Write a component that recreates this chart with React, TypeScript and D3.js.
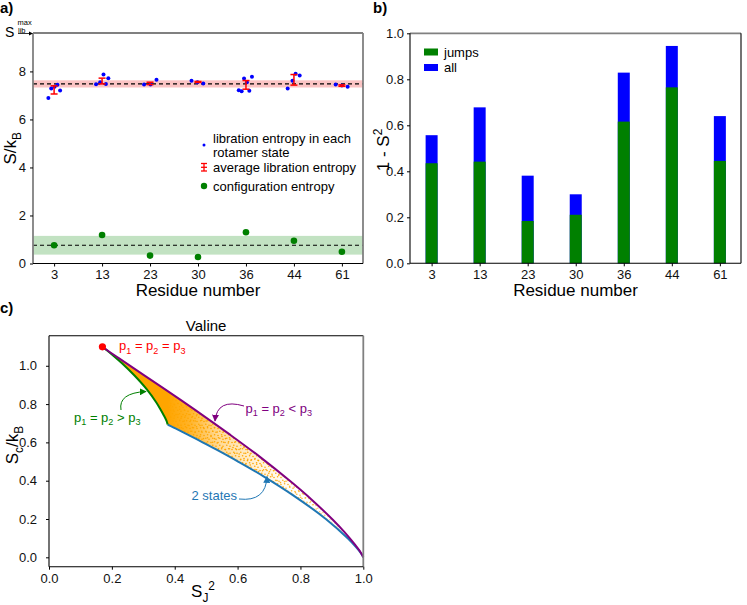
import * as d3 from 'd3';
import { useRef, useEffect } from 'react';

// ---- panel a: entropies per residue ----
const residues = ['3', '13', '23', '30', '36', '44', '61'];

// libration entropy of each rotamer state (S/kB) and its horizontal jitter (category units)
const libStateEntropy = [
    [6.89, 7.29, 7.36, 7.44, 7.21],
    [7.47, 7.55, 7.87, 7.48, 7.72],
    [7.45, 7.45, 7.65],
    [7.61, 7.55, 7.5],
    [7.22, 7.17, 7.7, 7.55, 7.19, 7.78],
    [7.29, 7.61, 7.9, 7.83],
    [7.46, 7.41, 7.36],
];
const libStateJitter = [
    [-0.12, -0.06, 0.01, 0.07, 0.125],
    [-0.125, -0.04, 0.03, 0.08, 0.13],
    [-0.125, 0.01, 0.135],
    [-0.135, -0.01, 0.11],
    [-0.15, -0.09, -0.04, 0.02, 0.07, 0.125],
    [-0.13, -0.03, 0.035, 0.12],
    [-0.13, 0, 0.12],
];
const libMean = [7.23, 7.6, 7.5, 7.56, 7.44, 7.65, 7.41];
const libErr = [0.17, 0.12, 0.05, 0.02, 0.18, 0.22, 0.03];
const libOverall = 7.48;
const libOverallSd = 0.15;
const libMax = 9.6;

const confEntropy = [0.76, 1.19, 0.33, 0.27, 1.3, 0.95, 0.49];
const confOverall = 0.76;
const confOverallSd = 0.39;

const ticksA = [0, 2, 4, 6, 8];

// ---- panel b: 1 - S^2 ----
const jumpsS2 = [0.435, 0.442, 0.184, 0.211, 0.616, 0.765, 0.445];
const allS2 = [0.557, 0.678, 0.381, 0.3, 0.829, 0.945, 0.64];
const ticksB = [0, 0.2, 0.4, 0.6, 0.8, 1.0];

// ---- panel c: valine, [S_J^2, Sc/kB] ----
const equalAll: [number, number] = [0.17, 1.099];
const pairBelowThird: [number, number][] = [
    [0.17, 1.099], [0.178, 1.089], [0.222, 1.04], [0.303, 0.95], [0.421, 0.819],
    [0.494, 0.736], [0.577, 0.639], [0.669, 0.527], [0.77, 0.394], [0.835, 0.302],
    [0.903, 0.196], [0.941, 0.13], [0.975, 0.063], [0.988, 0.035], [0.995, 0.016], [1.0, 0.0],
];
const pairAboveThird: [number, number][] = [
    [0.17, 1.099], [0.172, 1.096], [0.183, 1.082], [0.203, 1.055], [0.233, 1.012],
    [0.272, 0.949], [0.31, 0.879], [0.342, 0.807], [0.353, 0.777], [0.365, 0.742],
    [0.374, 0.712], [0.3775, 0.693],
];
const twoStates: [number, number][] = [
    [0.3775, 0.693], [0.3837, 0.688], [0.4024, 0.673], [0.4335, 0.647], [0.4771, 0.611],
    [0.5331, 0.562], [0.6016, 0.5], [0.6825, 0.423], [0.7759, 0.325], [0.8817, 0.199],
    [0.9512, 0.098], [0.9754, 0.056], [0.9876, 0.032], [0.9975, 0.008], [1.0, 0.0],
];
const ticksC = [0, 0.2, 0.4, 0.6, 0.8, 1.0];

const FONT = '"Liberation Sans", Arial, sans-serif';
const GRAY = '#808080';

type Sel = d3.Selection<any, unknown, null, undefined>;

// text with sub (1) / superscript (-1) parts
function richText(parent: Sel, x: number, y: number, parts: [string, number][], size: number, fill = '#000', anchor = 'start') {
    const t = parent.append('text')
        .attr('x', x).attr('y', y)
        .attr('font-size', size)
        .attr('fill', fill)
        .attr('text-anchor', anchor);
    let shift = 0;
    parts.forEach(([s, level]) => {
        const target = level === 1 ? size * 0.3 : level === -1 ? -size * 0.4 : 0;
        t.append('tspan')
            .attr('dy', target - shift)
            .attr('font-size', level ? size * 0.7 : size)
            .text(s);
        shift = target;
    });
    return t;
}

function styleAxis(g: Sel) {
    g.select('.domain').remove();
    g.attr('font-family', FONT).attr('font-size', 13);
    g.selectAll('text').attr('fill', '#111');
    g.selectAll('line').attr('stroke', '#000');
}

function frame(g: Sel, x0: number, x1: number, y0: number, y1: number, colors: { top: string; right: string; left: string }) {
    const side = (xa: number, ya: number, xb: number, yb: number, c: string) =>
        g.append('line').attr('x1', xa).attr('y1', ya).attr('x2', xb).attr('y2', yb)
            .attr('stroke', c).attr('stroke-width', c === GRAY ? 1.8 : 1.1);
    side(x0, y0, x1, y0, colors.top);
    side(x1, y0, x1, y1, colors.right);
    side(x0, y0, x0, y1, colors.left);
    side(x0, y1, x1, y1, '#000');
}

function drawPanelA(svg: Sel) {
    const g = svg.append('g');
    const x = d3.scaleLinear().domain([-0.44, 6.44]).range([33, 363]);
    const y = d3.scaleLinear().domain([0, libMax]).range([263.5, 33]);
    const [xl, xr] = x.range();

    // bands and overall means
    const band = (m: number, sd: number, fill: string) => {
        g.append('rect')
            .attr('x', xl).attr('width', xr - xl)
            .attr('y', y(m + sd)).attr('height', y(m - sd) - y(m + sd))
            .attr('fill', fill);
        g.append('line')
            .attr('x1', xl).attr('x2', xr).attr('y1', y(m)).attr('y2', y(m))
            .attr('stroke', '#000').attr('stroke-width', 1.2).attr('stroke-dasharray', '4,3');
    };
    band(libOverall, libOverallSd, '#fbc4c4');
    band(confOverall, confOverallSd, '#c2e2c2');

    // libration entropy of each state
    const pts = libStateEntropy.flatMap((vals, i) =>
        vals.map((v, j) => ({ i: i + libStateJitter[i][j], v })));
    g.append('g').selectAll('circle')
        .data(pts)
        .enter()
        .append('circle')
        .attr('cx', d => x(d.i))
        .attr('cy', d => y(d.v))
        .attr('r', 2)
        .attr('fill', '#0000ff');

    // average with error bars
    const eb = g.append('g').attr('stroke', '#ff0000').attr('stroke-width', 1.5);
    libMean.forEach((m, i) => {
        const cx = x(i);
        eb.append('line').attr('x1', cx).attr('x2', cx).attr('y1', y(m - libErr[i])).attr('y2', y(m + libErr[i]));
        [m - libErr[i], m + libErr[i]].forEach(v =>
            eb.append('line').attr('x1', cx - 3.5).attr('x2', cx + 3.5).attr('y1', y(v)).attr('y2', y(v)));
    });

    // configuration entropy
    g.append('g').selectAll('circle')
        .data(confEntropy)
        .enter()
        .append('circle')
        .attr('cx', (_, i) => x(i))
        .attr('cy', d => y(d))
        .attr('r', 3.3)
        .attr('fill', '#008000');

    frame(g, xl, xr, 33, 263.5, { top: GRAY, right: GRAY, left: GRAY });

    const ax = g.append('g').attr('transform', 'translate(0,263.5)')
        .call(d3.axisBottom(x).tickValues(d3.range(residues.length)).tickFormat((_, i) => residues[i]).tickSize(3).tickPadding(3));
    styleAxis(ax);
    const ay = g.append('g').attr('transform', `translate(${xl},0)`)
        .call(d3.axisLeft(y).tickValues(ticksA).tickFormat(d3.format('d')).tickSize(3).tickPadding(4));
    styleAxis(ay);

    // S_lib^max marker
    g.append('text').attr('x', 5).attr('y', 36.5).attr('font-size', 14).text('S');
    g.append('text').attr('x', 17.5).attr('y', 25).attr('font-size', 7.5).text('max');
    g.append('text').attr('x', 18).attr('y', 32.5).attr('font-size', 7.5).text('lib');
    g.append('line').attr('x1', 18).attr('x2', 31).attr('y1', 33.5).attr('y2', 33.5).attr('stroke', '#000').attr('stroke-width', 0.8);
    g.append('path').attr('d', 'M33,33.5 L29,31.5 L29,35.5 Z').attr('fill', '#000');

    // axis labels
    g.append('text').attr('x', (xl + xr) / 2).attr('y', 296).attr('text-anchor', 'middle').attr('font-size', 17).text('Residue number');
    richText(g, 0, 0, [['S/k', 0], ['B', 1]], 17, '#000', 'middle')
        .attr('transform', `translate(16,${(33 + 263.5) / 2}) rotate(-90)`);

    // legend
    const lg = g.append('g').attr('font-size', 13);
    lg.append('circle').attr('cx', 204).attr('cy', 145).attr('r', 1.5).attr('fill', '#0000ff');
    lg.append('text').attr('x', 213).attr('y', 142.5).text('libration entropy in each');
    lg.append('text').attr('x', 213).attr('y', 156.5).text('rotamer state');
    const li = lg.append('g').attr('stroke', '#ff0000').attr('stroke-width', 1.3);
    li.append('line').attr('x1', 204).attr('x2', 204).attr('y1', 163.5).attr('y2', 171);
    li.append('line').attr('x1', 201).attr('x2', 207).attr('y1', 163.5).attr('y2', 163.5);
    li.append('line').attr('x1', 201).attr('x2', 207).attr('y1', 171).attr('y2', 171);
    li.append('line').attr('x1', 201).attr('x2', 207).attr('y1', 167.3).attr('y2', 167.3);
    lg.append('text').attr('x', 213).attr('y', 172).text('average libration entropy');
    lg.append('circle').attr('cx', 204).attr('cy', 186).attr('r', 3.2).attr('fill', '#008000');
    lg.append('text').attr('x', 213).attr('y', 190.5).text('configuration entropy');

    g.append('text').attr('x', 0).attr('y', 13).attr('font-size', 15).attr('font-weight', 'bold').text('a)');
}

function drawPanelB(svg: Sel) {
    const g = svg.append('g');
    const x = d3.scaleLinear().domain([-0.45, 6.44]).range([410, 741]);
    const y = d3.scaleLinear().domain([0, 1]).range([263.3, 33.3]);
    const [xl, xr] = x.range();
    const bw = 12;

    g.append('g').selectAll('rect')
        .data(allS2)
        .enter()
        .append('rect')
        .attr('x', (_, i) => x(i) - bw / 2)
        .attr('y', d => y(d))
        .attr('width', bw)
        .attr('height', d => y(0) - y(d))
        .attr('fill', '#0000ff');

    g.append('g').selectAll('rect')
        .data(jumpsS2)
        .enter()
        .append('rect')
        .attr('x', (_, i) => x(i) - bw / 2)
        .attr('y', d => y(d))
        .attr('width', bw)
        .attr('height', d => y(0) - y(d))
        .attr('fill', '#008000');

    frame(g, xl, xr, 33.3, 263.3, { top: GRAY, right: '#000', left: '#000' });

    const ax = g.append('g').attr('transform', 'translate(0,263.3)')
        .call(d3.axisBottom(x).tickValues(d3.range(residues.length)).tickFormat((_, i) => residues[i]).tickSize(3).tickPadding(3));
    styleAxis(ax);
    const ay = g.append('g').attr('transform', `translate(${xl},0)`)
        .call(d3.axisLeft(y).tickValues(ticksB).tickFormat(d3.format('.1f')).tickSize(3).tickPadding(3));
    styleAxis(ay);

    const lg = g.append('g').attr('font-size', 13);
    lg.append('rect').attr('x', 424).attr('y', 48.5).attr('width', 14).attr('height', 7).attr('fill', '#008000');
    lg.append('text').attr('x', 444).attr('y', 57).text('jumps');
    lg.append('rect').attr('x', 424).attr('y', 64).attr('width', 14).attr('height', 7).attr('fill', '#0000ff');
    lg.append('text').attr('x', 444).attr('y', 72).text('all');

    g.append('text').attr('x', (xl + xr) / 2).attr('y', 296).attr('text-anchor', 'middle').attr('font-size', 17).text('Residue number');
    richText(g, 0, 0, [['1 - S', 0], ['2', -1]], 17, '#000', 'middle')
        .attr('transform', `translate(389,150) rotate(-90)`);

    g.append('text').attr('x', 373).attr('y', 13).attr('font-size', 15).attr('font-weight', 'bold').text('b)');
}

function drawPanelC(svg: Sel, defs: Sel) {
    const g = svg.append('g');
    const x = d3.scaleLinear().domain([0, 1]).range([49, 363.3]);
    const y = d3.scaleLinear().domain([-0.049, 1.157]).range([566.7, 335.7]);
    const [xl, xr] = x.range();
    const [yb, yt] = y.range();

    const line = d3.line<[number, number]>()
        .x(d => x(d[0]))
        .y(d => y(d[1]))
        .curve(d3.curveCatmullRom.alpha(0.5));

    // sampled region of allowed populations
    const region = line(pairBelowThird)!
        + line([...twoStates].reverse())!.replace(/^M/, 'L')
        + line([...pairAboveThird].reverse())!.replace(/^M/, 'L') + 'Z';

    const gx = (o: number) => x(equalAll[0]) + o * (x(1) - x(equalAll[0]));
    const solid = defs.append('linearGradient').attr('id', 'orangeSolid')
        .attr('gradientUnits', 'userSpaceOnUse')
        .attr('x1', gx(0)).attr('x2', gx(1)).attr('y1', 0).attr('y2', 0);
    [[0, 1], [0.25, 1], [0.33, 0.85], [0.45, 0.4], [0.6, 0.14], [0.75, 0.0]].forEach(([o, a]) =>
        solid.append('stop').attr('offset', o).attr('stop-color', '#ffa500').attr('stop-opacity', a));

    const fade = defs.append('linearGradient').attr('id', 'dotFade')
        .attr('gradientUnits', 'userSpaceOnUse')
        .attr('x1', gx(0)).attr('x2', gx(1)).attr('y1', 0).attr('y2', 0);
    [[0, 1], [0.6, 1], [0.78, 0.75], [0.9, 0.35], [0.97, 0]].forEach(([o, a]) =>
        fade.append('stop').attr('offset', o).attr('stop-color', '#fff').attr('stop-opacity', a));
    const mask = defs.append('mask').attr('id', 'dotMask').attr('maskUnits', 'userSpaceOnUse')
        .attr('x', 0).attr('y', 0).attr('width', 747).attr('height', 605);
    mask.append('rect').attr('x', 0).attr('y', 0).attr('width', 747).attr('height', 605).attr('fill', 'url(#dotFade)');

    const dots = (id: string, size: number, spots: number[][]) => {
        const p = defs.append('pattern').attr('id', id).attr('patternUnits', 'userSpaceOnUse')
            .attr('width', size).attr('height', size);
        spots.forEach(([cx, cy]) => p.append('circle').attr('cx', cx).attr('cy', cy).attr('r', 0.8).attr('fill', '#ffa500'));
    };
    dots('dotsA', 7, [[1, 1.5], [4.6, 0.8], [2.8, 4.2], [6, 5.3]]);
    dots('dotsB', 11, [[2, 7.5], [8.2, 3], [5.5, 9.6], [9.5, 8.8], [3.7, 2.2]]);

    g.append('path').attr('d', region).attr('fill', 'url(#orangeSolid)');
    const dg = g.append('g').attr('mask', 'url(#dotMask)');
    dg.append('path').attr('d', region).attr('fill', 'url(#dotsA)');
    dg.append('path').attr('d', region).attr('fill', 'url(#dotsB)');

    // boundary curves
    g.append('path').attr('d', line(twoStates)).attr('fill', 'none').attr('stroke', '#1f77b4').attr('stroke-width', 2);
    g.append('path').attr('d', line(pairAboveThird)).attr('fill', 'none').attr('stroke', '#008000').attr('stroke-width', 2);
    g.append('path').attr('d', line(pairBelowThird)).attr('fill', 'none').attr('stroke', '#800080').attr('stroke-width', 2);
    g.append('circle').attr('cx', x(equalAll[0])).attr('cy', y(equalAll[1])).attr('r', 3.6).attr('fill', '#ff0000');

    frame(g, xl, xr, yt, yb, { top: '#000', right: GRAY, left: '#000' });

    const ax = g.append('g').attr('transform', `translate(0,${yb})`)
        .call(d3.axisBottom(x).tickValues(ticksC).tickFormat(d3.format('.1f')).tickSize(3).tickPadding(4));
    styleAxis(ax);
    const ay = g.append('g').attr('transform', `translate(${xl},0)`)
        .call(d3.axisLeft(y).tickValues(ticksC).tickFormat(d3.format('.1f')).tickSize(3).tickPadding(9));
    styleAxis(ay);

    // annotations
    const marker = (id: string, color: string) =>
        defs.append('marker').attr('id', id).attr('viewBox', '0 0 10 10').attr('refX', 9).attr('refY', 5)
            .attr('markerWidth', 7).attr('markerHeight', 7).attr('markerUnits', 'userSpaceOnUse').attr('orient', 'auto')
            .append('path').attr('d', 'M0,0 L10,5 L0,10 Z').attr('fill', color);
    marker('arPurple', '#800080');
    marker('arGreen', '#008000');
    marker('arBlue', '#1f77b4');

    g.append('path').attr('d', 'M244,406 Q217,398 215,421').attr('fill', 'none').attr('stroke', '#800080').attr('stroke-width', 1).attr('marker-end', 'url(#arPurple)');
    g.append('path').attr('d', 'M121,410 Q118,393 146,391.5').attr('fill', 'none').attr('stroke', '#008000').attr('stroke-width', 1).attr('marker-end', 'url(#arGreen)');
    g.append('path').attr('d', 'M239,499 Q266,502 267,476.5').attr('fill', 'none').attr('stroke', '#1f77b4').attr('stroke-width', 1).attr('marker-end', 'url(#arBlue)');

    const pp = (op: string): [string, number][] => [['p', 0], ['1', 1], [' = p', 0], ['2', 1], [` ${op} p`, 0], ['3', 1]];
    richText(g, 119, 350, pp('='), 13, '#ff0000');
    richText(g, 245.5, 412.5, pp('<'), 13, '#800080');
    richText(g, 74, 421.5, pp('>'), 13, '#008000');
    g.append('text').attr('x', 191.5).attr('y', 500).attr('font-size', 13).attr('fill', '#1f77b4').text('2 states');

    g.append('text').attr('x', (xl + xr) / 2).attr('y', 331).attr('text-anchor', 'middle').attr('font-size', 15).text('Valine');
    richText(g, 203, 597, [['S', 0], ['J', 1], ['2', -1]], 17, '#000', 'middle');
    richText(g, 0, 0, [['S', 0], ['c', 1], ['/k', 0], ['B', 1]], 17, '#000', 'middle')
        .attr('transform', `translate(18,445) rotate(-90)`);

    g.append('text').attr('x', 0).attr('y', 313).attr('font-size', 15).attr('font-weight', 'bold').text('c)');
}

export default function App() {
    const svgRef = useRef<SVGSVGElement>(null);

    useEffect(() => {
        if (!svgRef.current) return;
        const svg = d3.select(svgRef.current) as Sel;
        svg.selectAll('*').remove();
        svg.attr('font-family', FONT);
        const defs = svg.append('defs');

        drawPanelA(svg);
        drawPanelB(svg);
        drawPanelC(svg, defs);
    }, []);

    return <svg ref={svgRef} width={747} height={605} style={{ position: 'absolute', left: 0, top: 0, background: '#fff' }} />;
}
